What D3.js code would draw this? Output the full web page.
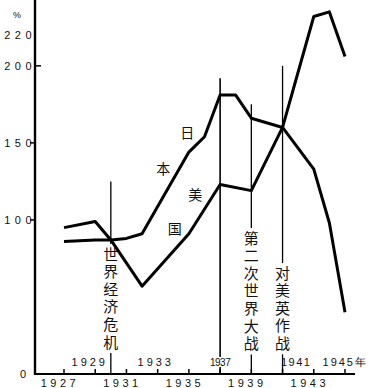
<!DOCTYPE html>
<html>
<head>
<meta charset="utf-8">
<script src="https://cdn.jsdelivr.net/npm/d3@7"></script>
<style>
    html, body { margin: 0; padding: 0; background: #fff; }
    svg { display: block; }
    .num { font-family: "Liberation Sans", Arial, sans-serif; font-size: 11px; fill: #111; }
    .zh { font-family: "Noto Sans CJK SC", sans-serif; font-size: 14px; fill: #111; }
</style>
</head>
<body>
<svg id="chart" width="369" height="388"></svg>
<script>
// industrial production index, Japan and USA
const japanYears = [1927, 1929, 1930, 1931, 1932, 1935, 1936, 1937, 1938, 1939, 1941, 1943, 1944, 1945];
const japanValues = [86, 87, 87, 88, 91, 144, 154, 181, 181, 166, 160, 133, 98, 40];
const usYears = [1927, 1929, 1930, 1932, 1935, 1937, 1939, 1941, 1943, 1944, 1945];
const usValues = [95, 99, 87, 57, 91, 123, 119, 160, 232, 235, 206];

const yTicks = [0, 100, 150, 200, 220];
const xTicks = [1927, 1929, 1931, 1933, 1935, 1937, 1939, 1941, 1943, 1945];
const xTickLabels = [1927, 1931, 1935, 1939, 1943];
const eventYearLabels = ["1929", "1933", "1937", "1941", "1945年"];
const eventYearValues = [1929, 1933, 1937, 1941, 1945];

const eventYears = [1930, 1937, 1939, 1941];
const eventTops = [125, 192, 175, 200];
const eventLabels = ["世界经济危机", "", "第二次世界大战", "对美英作战"];

const svg = d3.select("#chart");

const x = d3.scaleLinear().domain([1927, 1945]).range([64, 345]);
const y = d3.scaleLinear().domain([0, 220]).range([374, 35]);

// axes
svg.append("line")
    .attr("x1", 35).attr("x2", 35)
    .attr("y1", 0).attr("y2", y(0) + 1)
    .attr("stroke", "#000").attr("stroke-width", 2.4);

svg.append("line")
    .attr("x1", 34).attr("x2", 355)
    .attr("y1", y(0)).attr("y2", y(0))
    .attr("stroke", "#000").attr("stroke-width", 2);

// y ticks: 200 points right, the rest left
svg.selectAll(".ytick")
    .data(yTicks.filter(d => d > 0 && d < 220))
    .enter().append("line")
    .attr("x1", d => d === 200 ? 35 : 30)
    .attr("x2", d => d === 200 ? 41 : 35)
    .attr("y1", d => y(d)).attr("y2", d => y(d))
    .attr("stroke", "#000").attr("stroke-width", 1.5);

svg.selectAll(".ylab")
    .data(yTicks)
    .enter().append("text")
    .attr("class", "num")
    .attr("x", d => d === 0 ? 26 : 36)
    .attr("y", d => y(d))
    .attr("dy", "0.36em")
    .attr("text-anchor", "end")
    .style("letter-spacing", d => d === 0 ? "0px" : "4.5px")
    .text(d => d);

svg.append("text")
    .attr("class", "num")
    .attr("x", 17).attr("y", 18)
    .attr("text-anchor", "middle")
    .style("font-size", "9px")
    .text("%");

// x ticks (pointing up) and bottom labels
svg.selectAll(".xtick")
    .data(xTicks)
    .enter().append("line")
    .attr("x1", d => x(d)).attr("x2", d => x(d))
    .attr("y1", y(0) - 5).attr("y2", y(0))
    .attr("stroke", "#000").attr("stroke-width", 1.5);

svg.selectAll(".xlab")
    .data(xTickLabels)
    .enter().append("text")
    .attr("class", "num")
    .attr("x", d => x(d) - 4)
    .attr("y", 387)
    .attr("text-anchor", "middle")
    .style("letter-spacing", "3.5px")
    .text(d => d);

// event lines, broken around their vertical captions
const captionStart = { 1930: 254, 1939: 238, 1941: 273 };
const captionStep = 17.6;
const captionSize = 15;
eventYears.forEach((yr, i) => {
    const cx = x(yr);
    const chars = Array.from(eventLabels[i]);
    if (chars.length === 0) {
        svg.append("line")
            .attr("x1", cx).attr("x2", cx)
            .attr("y1", y(eventTops[i])).attr("y2", y(0))
            .attr("stroke", "#000").attr("stroke-width", 1.6);
        return;
    }
    const s = captionStart[yr];
    const e = s + (chars.length - 1) * captionStep;
    svg.append("line")
        .attr("x1", cx).attr("x2", cx)
        .attr("y1", y(eventTops[i])).attr("y2", s - 10)
        .attr("stroke", "#000").attr("stroke-width", 1.3);
    svg.append("line")
        .attr("x1", cx).attr("x2", cx)
        .attr("y1", e + 11).attr("y2", y(0))
        .attr("stroke", "#000").attr("stroke-width", 1.3);
    svg.append("text")
        .attr("class", "zh")
        .attr("x", cx).attr("y", s - captionSize / 2)
        .attr("writing-mode", "vertical-rl")
        .style("writing-mode", "vertical-rl")
        .style("text-orientation", "upright")
        .style("font-size", captionSize + "px")
        .style("letter-spacing", (captionStep - captionSize) + "px")
        .text(eventLabels[i]);
});

// data lines
const line = d3.line()
    .x(d => x(d[0]))
    .y(d => y(d[1]));

svg.append("path")
    .datum(usYears.map((yr, i) => [yr, usValues[i]]))
    .attr("d", line)
    .attr("fill", "none")
    .attr("stroke", "#000")
    .attr("stroke-width", 3)
    .attr("stroke-linejoin", "round");

svg.append("path")
    .datum(japanYears.map((yr, i) => [yr, japanValues[i]]))
    .attr("d", line)
    .attr("fill", "none")
    .attr("stroke", "#000")
    .attr("stroke-width", 3)
    .attr("stroke-linejoin", "round");

// series captions
const seriesCaptions = [
    { t: "日", yr: 1934.9, v: 157 },
    { t: "本", yr: 1933.35, v: 134 },
    { t: "美", yr: 1935.4, v: 117 },
    { t: "国", yr: 1934.1, v: 95 }
];
svg.selectAll(".cap")
    .data(seriesCaptions)
    .enter().append("text")
    .attr("class", "zh")
    .attr("x", d => x(d.yr))
    .attr("y", d => y(d.v))
    .attr("text-anchor", "middle")
    .attr("dominant-baseline", "central")
    .text(d => d.t);

// year labels above the axis
const topLabelStyle = [
    { x: 108, anchor: "end", ls: "3px", fs: "11px", halo: 0 },
    { x: 174, anchor: "end", ls: "3px", fs: "11px", halo: 0 },
    { x: 0, anchor: "middle", ls: "-0.5px", fs: "10px", halo: 3 },
    { x: 281, anchor: "start", ls: "1.5px", fs: "11px", halo: 0 },
    { x: 368, anchor: "end", ls: "2px", fs: "11px", halo: 0 }
];
svg.selectAll(".ylabTop")
    .data(eventYearValues)
    .enter().append("text")
    .attr("class", "num")
    .attr("x", (d, i) => i === 2 ? x(d) : topLabelStyle[i].x)
    .attr("y", 366)
    .attr("text-anchor", (d, i) => topLabelStyle[i].anchor)
    .style("letter-spacing", (d, i) => topLabelStyle[i].ls)
    .style("font-size", (d, i) => topLabelStyle[i].fs)
    .attr("stroke", "#fff").attr("stroke-width", (d, i) => topLabelStyle[i].halo)
    .attr("paint-order", "stroke")
    .text((d, i) => eventYearLabels[i]);
</script>
</body>
</html>
